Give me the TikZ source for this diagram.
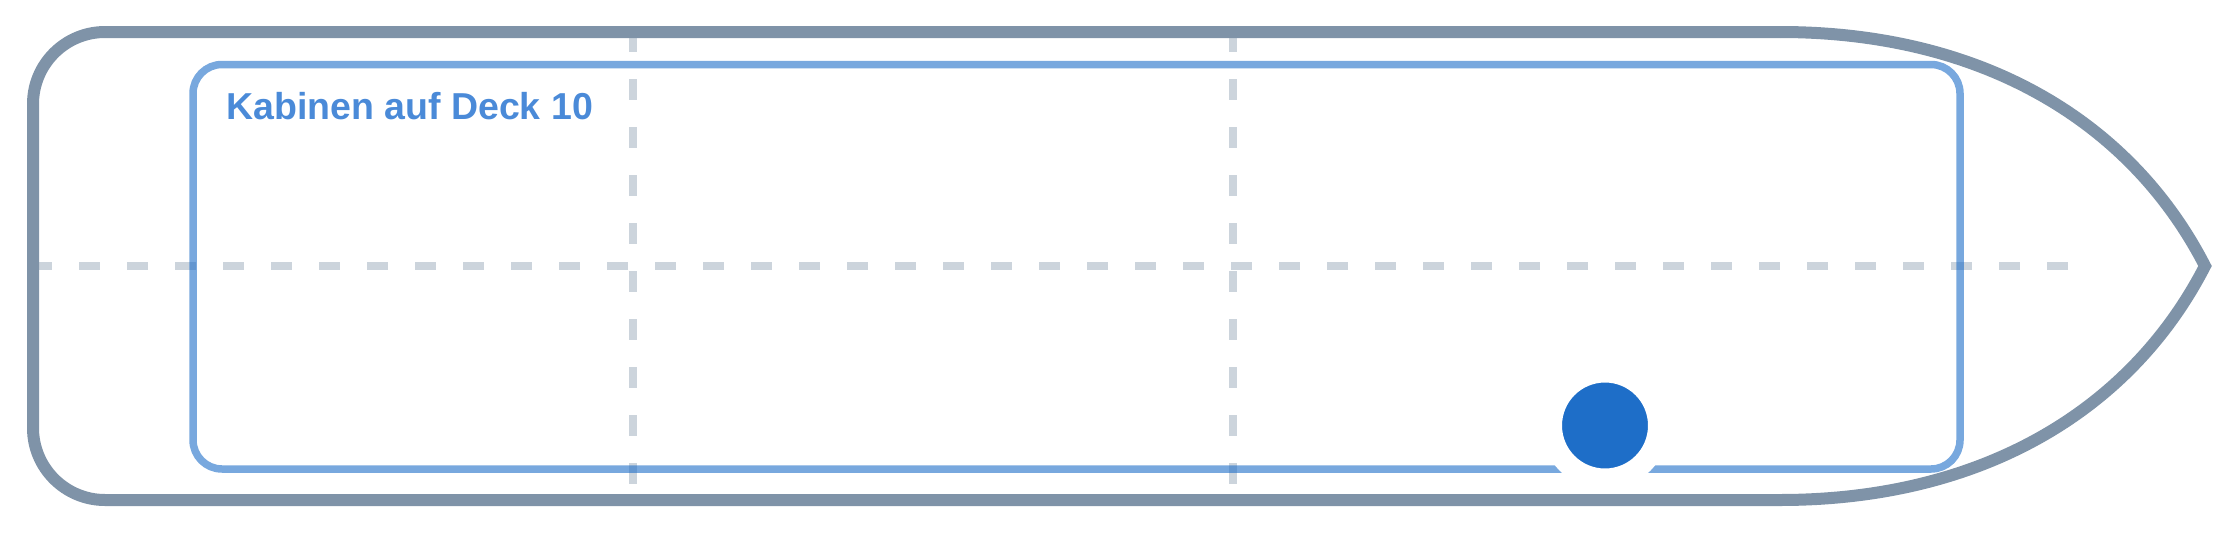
\documentclass[tikz,border=0pt]{standalone}
\usepackage{fontspec}
\setsansfont{Liberation Sans}
\usepackage{tikz}
\definecolor{hullgray}{HTML}{7F93A8}
\definecolor{cabinblue}{HTML}{1E6EC8}
\definecolor{titleblue}{HTML}{4A8AD8}

\begin{document}
\begin{tikzpicture}[x = 1pt, y = -1pt, hull/.style={draw = hullgray, line width = 12pt, line join = miter}, grid/.style={draw = hullgray, opacity = 0.4, line width = 7.5pt, dash pattern = on 21pt off 27pt}, deck/.style={draw = cabinblue, opacity = 0.6, line width = 7.5pt, rounded corners = 29pt}, marker/.style={circle, fill = cabinblue, draw = white, line width = 21pt, minimum size = 107pt, inner sep = 0pt}]
  \useasboundingbox (0,0) rectangle (2240,533);

  % grid
  \draw [grid] (31,266) -- (2069,266);
  \draw [grid] (633,31) -- (633,484);
  \draw [grid] (1233,31) -- (1233,484);

  % hull
  \draw [hull] [rounded corners = 72pt] (1780,32) -- (33,32) -- (33,500) -- (1780,500);
  \draw [hull] (1780,32) .. controls (1980,32) and (2130,120) .. (2205,266) .. controls (2130,412) and (1980,500) .. (1780,500);

  % deck
  \draw [deck] (193,64.5) rectangle (1960,469);
  \node [anchor = base west, inner sep = 0pt, text = titleblue, font = \sffamily\bfseries\fontsize{37.5}{38}\selectfont] (decktitle) at (226,119) {Kabinen auf Deck 10};

  % marker
  \node [marker] (cabin) at (1605,425.5) {};
\end{tikzpicture}
\end{document}
